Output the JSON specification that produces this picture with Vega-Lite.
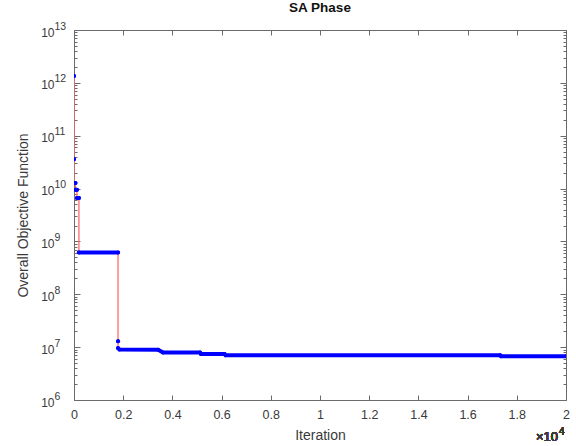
{
  "$schema": "https://vega.github.io/schema/vega-lite/v6.json",
  "autosize": {"type": "none"},
  "padding": {"left": 74, "top": 30, "right": 10, "bottom": 46},
  "width": 492,
  "height": 370,
  "background": "white",
  "title": {"text": "SA Phase", "fontSize": 13.5, "fontWeight": "bold", "font": "Liberation Sans", "color": "#111", "offset": 7, "frame": "group", "anchor": "middle"},
  "config": {
    "view": {"stroke": "#6a6a6a", "strokeWidth": 1},
    "axis": {"grid": false, "domain": false, "labelFlush": false, "labelOverlap": false, "labelFont": "Liberation Sans", "titleFont": "Liberation Sans", "labelColor": "#3a3a3a", "titleColor": "#3a3a3a", "tickColor": "#6a6a6a", "titleFontWeight": "normal", "labelFontSize": 12.5, "titleFontSize": 14}
  },
  "data": {"values": [
    {"o": 1, "it": 0, "v": 1.35e12, "seg": "a"},
    {"o": 2, "it": 0, "v": 3.6e10, "seg": "b"},
    {"o": 3, "it": 0, "v": 1.28e10, "seg": "c"},
    {"o": 4, "it": 60, "v": 1.28e10, "seg": "c"},
    {"o": 5, "it": 60, "v": 9.5e9, "seg": "d"},
    {"o": 6, "it": 120, "v": 9.5e9, "seg": "d"},
    {"o": 7, "it": 120, "v": 6.6e9, "seg": "e"},
    {"o": 8, "it": 200, "v": 6.6e9, "seg": "e"},
    {"o": 9, "it": 200, "v": 6.2e8, "seg": "f"},
    {"o": 10, "it": 1790, "v": 6.2e8, "seg": "f"},
    {"o": 11, "it": 1790, "v": 1.29e7, "seg": "g"},
    {"o": 12, "it": 1790, "v": 9.6e6, "seg": "h"},
    {"o": 13, "it": 1850, "v": 9.0e6, "seg": "h"},
    {"o": 14, "it": 3420, "v": 8.9e6, "seg": "h"},
    {"o": 15, "it": 3620, "v": 7.9e6, "seg": "h"},
    {"o": 16, "it": 5120, "v": 7.9e6, "seg": "h"},
    {"o": 17, "it": 5160, "v": 7.45e6, "seg": "h"},
    {"o": 18, "it": 6120, "v": 7.45e6, "seg": "h"},
    {"o": 19, "it": 6160, "v": 7.05e6, "seg": "h"},
    {"o": 20, "it": 17320, "v": 7.05e6, "seg": "h"},
    {"o": 21, "it": 17360, "v": 6.7e6, "seg": "h"},
    {"o": 22, "it": 20000, "v": 6.7e6, "seg": "h"}
  ]},
  "resolve": {"axis": {"x": "independent", "y": "independent"}},
  "layer": [
    {
      "mark": {"type": "line", "color": "#ff6a6a", "strokeWidth": 1.3, "clip": true},
      "encoding": {
        "x": {"field": "it", "type": "quantitative", "scale": {"domain": [0, 20000], "nice": false, "zero": false},
          "axis": {"orient": "bottom", "values": [0, 2000, 4000, 6000, 8000, 10000, 12000, 14000, 16000, 18000, 20000], "tickSize": -5, "labelPadding": 13, "labelExpr": "datum.value == 0 ? '0' : format(datum.value / 10000, '.1~f')", "title": "Iteration", "titlePadding": 8}},
        "y": {"field": "v", "type": "quantitative", "scale": {"type": "log", "domain": [1e6, 1e13], "nice": false},
          "axis": {"orient": "left", "values": [1e6, 1e7, 1e8, 1e9, 1e10, 1e11, 1e12, 1e13], "tickSize": -6, "labelPadding": 26, "labelOffset": 2, "labelFontSize": 12, "labelExpr": "'10'", "title": "Overall Objective Function", "titlePadding": 10}},
        "order": {"field": "o", "type": "quantitative"}
      }
    },
    {
      "mark": {"type": "line", "color": "#0000ff", "strokeWidth": 4, "strokeCap": "round", "clip": true},
      "encoding": {
        "x": {"field": "it", "type": "quantitative",
          "axis": {"orient": "top", "values": [0, 2000, 4000, 6000, 8000, 10000, 12000, 14000, 16000, 18000, 20000], "tickSize": -5, "labels": false, "title": null}},
        "y": {"field": "v", "type": "quantitative",
          "axis": {"orient": "right", "values": [1e6, 1e7, 1e8, 1e9, 1e10, 1e11, 1e12, 1e13], "tickSize": -6, "labels": false, "title": null}},
        "detail": {"field": "seg", "type": "nominal"},
        "order": {"field": "o", "type": "quantitative"}
      }
    },
    {
      "mark": {"type": "circle", "color": "#0000ff", "size": 16, "opacity": 1, "clip": true},
      "encoding": {
        "x": {"field": "it", "type": "quantitative", "axis": null},
        "y": {"field": "v", "type": "quantitative",
          "axis": {"orient": "left", "values": [2e6,3e6,4e6,5e6,6e6,7e6,8e6,9e6,2e7,3e7,4e7,5e7,6e7,7e7,8e7,9e7,2e8,3e8,4e8,5e8,6e8,7e8,8e8,9e8,2e9,3e9,4e9,5e9,6e9,7e9,8e9,9e9,2e10,3e10,4e10,5e10,6e10,7e10,8e10,9e10,2e11,3e11,4e11,5e11,6e11,7e11,8e11,9e11,2e12,3e12,4e12,5e12,6e12,7e12,8e12,9e12], "tickSize": -3, "labels": false, "title": null}}
      }
    },
    {
      "mark": {"type": "text", "text": "×10", "align": "right", "baseline": "alphabetic", "dy": 41, "dx": -8, "fontSize": 13, "font": "Liberation Sans", "color": "#3a3a3a"},
      "encoding": {
        "x": {"datum": 20000, "type": "quantitative", "axis": null},
        "y": {"datum": 1e6, "type": "quantitative",
          "axis": {"orient": "right", "values": [2e6,3e6,4e6,5e6,6e6,7e6,8e6,9e6,2e7,3e7,4e7,5e7,6e7,7e7,8e7,9e7,2e8,3e8,4e8,5e8,6e8,7e8,8e8,9e8,2e9,3e9,4e9,5e9,6e9,7e9,8e9,9e9,2e10,3e10,4e10,5e10,6e10,7e10,8e10,9e10,2e11,3e11,4e11,5e11,6e11,7e11,8e11,9e11,2e12,3e12,4e12,5e12,6e12,7e12,8e12,9e12], "tickSize": -3, "labels": false, "title": null}}
      }
    },
    {
      "mark": {"type": "text", "text": "4", "align": "left", "baseline": "alphabetic", "dy": 35, "dx": -7, "fontSize": 10, "font": "Liberation Sans", "color": "#3a3a3a"},
      "encoding": {
        "x": {"datum": 20000, "type": "quantitative", "axis": null},
        "y": {"datum": 1e6, "type": "quantitative",
          "axis": {"orient": "left", "values": [1e6, 1e7, 1e8, 1e9, 1e10, 1e11, 1e12, 1e13], "ticks": false, "tickSize": 0, "labelPadding": 20, "labelAlign": "left", "labelOffset": -4, "labelFontSize": 10.5, "labelExpr": "format(round(log(datum.value) / LN10), 'd')", "title": null}}
      }
    }
  ]
}
